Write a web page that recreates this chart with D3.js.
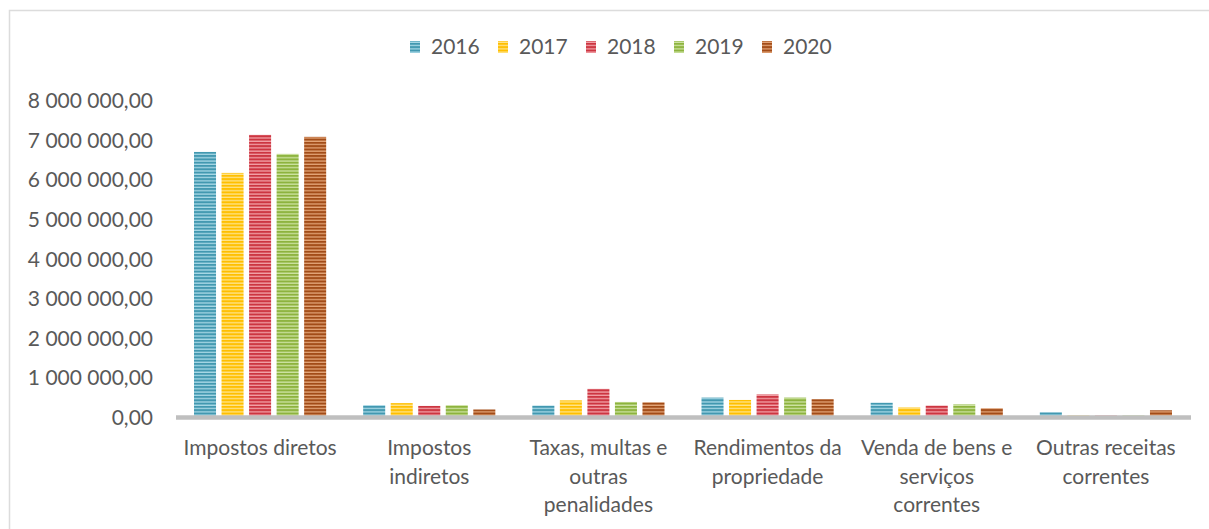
<!DOCTYPE html>
<html>
<head>
<meta charset="utf-8">
<script src="https://cdn.jsdelivr.net/npm/d3@7"></script>
<style>
  body { margin: 0; background: #fff; }
  text { font-family: Lato, "Open Sans", sans-serif; fill: #595959; }
</style>
</head>
<body>
<div id="vis"></div>
<script>
// data
var categories = ["Impostos diretos", "Impostos indiretos", "Taxas, multas e outras penalidades",
  "Rendimentos da propriedade", "Venda de bens e serviços correntes", "Outras receitas correntes"];
var years = ["2016", "2017", "2018", "2019", "2020"];
var values2016 = [6690000, 300000, 290000, 490000, 360000, 120000];
var values2017 = [6160000, 350000, 420000, 430000, 240000, 40000];
var values2018 = [7120000, 280000, 710000, 570000, 290000, 40000];
var values2019 = [6640000, 300000, 380000, 490000, 320000, 40000];
var values2020 = [7070000, 190000, 370000, 450000, 220000, 170000];
var yTicks = [0, 1000000, 2000000, 3000000, 4000000, 5000000, 6000000, 7000000, 8000000];

var series = [values2016, values2017, values2018, values2019, values2020];
// dark / light stripe colours for each year
var colors = [["#4298b0", "#a8d8e6"], ["#ffbf00", "#ffe48a"], ["#cc3541", "#f2a2a8"],
  ["#8db33e", "#cde3a2"], ["#a24c18", "#e3a477"]];

var width = 1209, height = 529;
var fontSize = "21px";

var svg = d3.select("#vis").append("svg")
  .attr("width", width)
  .attr("height", height);

// striped fills
var defs = svg.append("defs");
colors.forEach(function (c, i) {
  var p = defs.append("pattern")
    .attr("id", "stripe" + i)
    .attr("patternUnits", "userSpaceOnUse")
    .attr("width", 6).attr("height", 3.3);
  p.append("rect").attr("width", 6).attr("height", 3.3).attr("fill", c[0]);
  p.append("rect").attr("y", 2).attr("width", 6).attr("height", 1.3).attr("fill", c[1]);
});

// chart border (right and bottom run off the picture)
svg.append("path")
  .attr("d", "M9.5," + (height + 2) + "V10.5H" + (width + 2))
  .attr("fill", "none")
  .attr("stroke", "#dcdcdc")
  .attr("stroke-width", 1.5);

var x0 = d3.scaleBand()
  .domain(categories)
  .range([175.5, 1190.5]);

var x1 = d3.scaleBand()
  .domain(years)
  .range([18.5, x0.bandwidth() - 18.5])
  .paddingInner(0.2);

var y = d3.scaleLinear()
  .domain([0, 8000000])
  .range([417, 100]);

var locale = d3.formatLocale({ decimal: ",", thousands: " ", grouping: [3], currency: ["", ""] });
var fmt = locale.format(",.2f");

// y axis labels (no line, no gridlines)
var yAxis = d3.axisLeft(y).tickValues(yTicks).tickFormat(fmt).tickSize(0).tickPadding(0);
var gy = svg.append("g")
  .attr("transform", "translate(153,0)")
  .call(yAxis);
gy.select(".domain").remove();
gy.selectAll("text")
  .style("font-size", fontSize)
  .attr("fill", "#595959")
  .attr("dy", "0.36em");

// bars
var groups = svg.selectAll(".grp")
  .data(categories)
  .enter().append("g")
  .attr("class", "grp")
  .attr("transform", function (d) { return "translate(" + x0(d) + ",0)"; });

groups.selectAll("rect")
  .data(function (d, ci) { return years.map(function (yr, si) { return { year: yr, s: si, v: series[si][ci] }; }); })
  .enter().append("rect")
  .attr("x", function (d) { return x1(d.year); })
  .attr("y", function (d) { return y(d.v); })
  .attr("width", x1.bandwidth())
  .attr("height", function (d) { return y(0) - y(d.v); })
  .attr("fill", function (d) { return "url(#stripe" + d.s + ")"; });

// category axis
var xAxis = d3.axisBottom(x0).tickSize(0).tickPadding(0);
var gx = svg.append("g")
  .attr("transform", "translate(0," + y(0) + ")")
  .call(xAxis);
gx.select(".domain")
  .attr("stroke", "#bfbfbf")
  .attr("stroke-width", 4.5);
gx.selectAll("text")
  .style("font-size", fontSize)
  .attr("fill", "#595959")
  .attr("y", 38)
  .attr("dy", 0)
  .call(wrap, 162);

function wrap(texts, w) {
  texts.each(function () {
    var text = d3.select(this);
    var words = text.text().split(/\s+/);
    var line = [];
    var lineNo = 0;
    var ty = text.attr("y");
    var tspan = text.text(null).append("tspan").attr("x", 0).attr("y", ty);
    words.forEach(function (word) {
      line.push(word);
      tspan.text(line.join(" "));
      if (tspan.node().getComputedTextLength() > w && line.length > 1) {
        line.pop();
        tspan.text(line.join(" "));
        line = [word];
        lineNo++;
        tspan = text.append("tspan").attr("x", 0).attr("y", +ty + lineNo * 28.5).text(word);
      }
    });
  });
}

// legend
var legend = svg.selectAll(".leg")
  .data(years)
  .enter().append("g")
  .attr("class", "leg")
  .attr("transform", function (d, i) { return "translate(" + (410 + i * 88) + ",0)"; });

legend.append("rect")
  .attr("y", 41)
  .attr("width", 10)
  .attr("height", 12)
  .attr("fill", function (d, i) { return "url(#stripe" + i + ")"; });

legend.append("text")
  .attr("x", 21)
  .attr("y", 54)
  .style("font-size", fontSize)
  .text(function (d) { return d; });
</script>
</body>
</html>
